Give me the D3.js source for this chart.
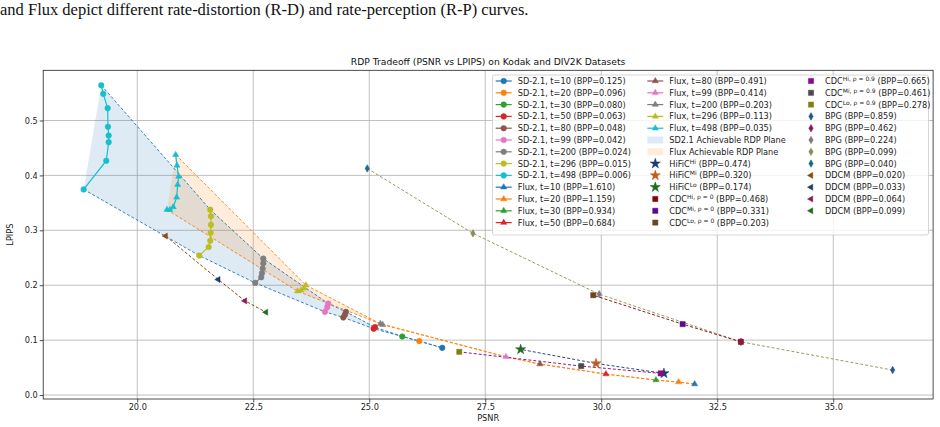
<!DOCTYPE html>
<html><head><meta charset="utf-8">
<script src="https://cdn.jsdelivr.net/npm/d3@7"></script>
<style>
body{margin:0;background:#fff;}
svg{display:block;font-family:"DejaVu Sans",sans-serif;}
</style></head>
<body><svg id="c" width="940" height="427"></svg>
<script>
// ---------- data ----------
const sdT = [10, 20, 30, 50, 80, 99, 200, 296, 498];
const sdBPP = ["0.125","0.096","0.080","0.063","0.048","0.042","0.024","0.015","0.006"];
const sdColors = ["#1f77b4","#ff7f0e","#2ca02c","#d62728","#8c564b","#e377c2","#7f7f7f","#bcbd22","#17becf"];
const sdPSNR = [
  [26.573],
  [26.078],
  [25.711],
  [25.123, 25.095],
  [24.498, 24.476, 24.440],
  [24.116, 24.095, 24.045],
  [22.716, 22.716, 22.703, 22.688, 22.672, 22.543],
  [21.573, 21.588, 21.588, 21.582, 21.573, 21.539, 21.336],
  [19.224, 19.267, 19.362, 19.369, 19.384, 19.384, 19.332, 18.845]
];
const sdLPIPS = [
  [0.0860],
  [0.0982],
  [0.1067],
  [0.1236, 0.1209],
  [0.1515, 0.1464, 0.1413],
  [0.1667, 0.1600, 0.1515],
  [0.2485, 0.2400, 0.2304, 0.2218, 0.2145, 0.2042],
  [0.3376, 0.3255, 0.3100, 0.2955, 0.2809, 0.2696, 0.2540],
  [0.5642, 0.5485, 0.5224, 0.4885, 0.4727, 0.4605, 0.4267, 0.3745]
];

const fluxT = [10, 20, 30, 50, 80, 99, 200, 296, 498];
const fluxBPP = ["1.610","1.159","0.934","0.684","0.491","0.414","0.203","0.113","0.035"];
const fluxPSNR = [
  [32.013],
  [31.668],
  [31.179],
  [30.101],
  [28.679],
  [27.946],
  [25.240, 25.290],
  [23.636, 23.593, 23.528, 23.453],
  [20.828, 20.856, 20.892, 20.871, 20.849, 20.776, 20.705, 20.640]
];
const fluxLPIPS = [
  [0.0200],
  [0.0236],
  [0.0273],
  [0.0382],
  [0.0564],
  [0.0696],
  [0.1300, 0.1280],
  [0.2000, 0.1945, 0.1909, 0.1891],
  [0.4376, 0.4182, 0.3982, 0.3831, 0.3600, 0.3424, 0.3376, 0.3376]
];

const hificLabels = ["Hi", "Mi", "Lo"];
const hificBPP = ["0.474", "0.320", "0.174"];
const hificPSNR = [31.351, 29.886, 28.263];
const hificLPIPS = [0.0395, 0.0576, 0.0831];
const hificColors = ["#1a3d6e", "#c45a1a", "#1e6b1e"];

const cdc0Labels = ["Hi", "Mi", "Lo"];
const cdc0BPP = ["0.468", "0.331", "0.203"];
const cdc0PSNR = [33.009, 31.754, 29.828];
const cdc0LPIPS = [0.0969, 0.1291, 0.1818];
const cdc0Colors = ["#7a0a0a", "#5a0a8a", "#6b4520"];

const cdc9Labels = ["Hi", "Mi", "Lo"];
const cdc9BPP = ["0.665", "0.461", "0.278"];
const cdc9PSNR = [31.280, 29.569, 26.940];
const cdc9LPIPS = [0.0395, 0.0527, 0.0787];
const cdc9Colors = ["#8b0a8b", "#4a4a4a", "#808010"];

const bpgBPP = ["0.859", "0.462", "0.224", "0.099", "0.040"];
const bpgPSNR = [36.280, 33.011, 29.957, 27.235, 24.957];
const bpgLPIPS = [0.0455, 0.0969, 0.1836, 0.2945, 0.4127];
const bpgColors = ["#1f5a8a", "#8a1a5a", "#7a7a7a", "#8a8a5a", "#1f6a8a"];

const ddcmBPP = ["0.020", "0.033", "0.064", "0.099"];
const ddcmPSNR = [20.612, 21.746, 22.321, 22.774];
const ddcmLPIPS = [0.2896, 0.2104, 0.1715, 0.1509];
const ddcmColors = ["#8a4a10", "#1a3d6e", "#8a1a5a", "#1e6b1e"];

const xTicks = [20.0, 22.5, 25.0, 27.5, 30.0, 32.5, 35.0];
const yTicks = [0.0, 0.1, 0.2, 0.3, 0.4, 0.5];

// ---------- drawing ----------
const svg = d3.select("#c");
const L = 43.2, R = 933.1, T = 70.3, B = 399;
const x = d3.scaleLinear().domain([17.973, 37.152]).range([L, R]);
const y = d3.scaleLinear().domain([-0.0072, 0.5914]).range([B, T]);

// caption from paper
svg.append("text").attr("x", 0).attr("y", 15)
  .style("font-family", "'Liberation Serif','Times New Roman',serif").style("font-size", "16.5px").attr("fill", "#111")
  .text("and Flux depict different rate-distortion (R-D) and rate-perception (R-P) curves.");

// title
svg.append("text").attr("x", (L + R) / 2).attr("y", 65).attr("text-anchor", "middle")
  .style("font-size", "9.2px").attr("fill", "#111")
  .text("RDP Tradeoff (PSNR vs LPIPS) on Kodak and DIV2K Datasets");

const clip = svg.append("defs").append("clipPath").attr("id", "clp");
clip.append("rect").attr("x", L).attr("y", T).attr("width", R - L).attr("height", B - T);

// grid
const grid = svg.append("g");
xTicks.forEach(v => grid.append("line").attr("x1", x(v)).attr("x2", x(v)).attr("y1", T).attr("y2", B)
  .attr("stroke", "#b0b0b0").attr("stroke-width", 0.8));
yTicks.forEach(v => grid.append("line").attr("x1", L).attr("x2", R).attr("y1", y(v)).attr("y2", y(v))
  .attr("stroke", "#b0b0b0").attr("stroke-width", 0.8));

// axes
const xAxis = d3.axisBottom(x).tickValues(xTicks).tickFormat(d3.format(".1f")).tickSize(3.5).tickPadding(2);
const yAxis = d3.axisLeft(y).tickValues(yTicks).tickFormat(d3.format(".1f")).tickSize(3.5).tickPadding(2);
const gx = svg.append("g").attr("transform", `translate(0,${B})`).call(xAxis);
const gy = svg.append("g").attr("transform", `translate(${L},0)`).call(yAxis);
[gx, gy].forEach(g => {
  g.select(".domain").remove();
  g.selectAll("text").style("font-size", "8.2px").style("font-family", "'DejaVu Sans',sans-serif").attr("fill", "#222");
  g.selectAll("line").attr("stroke", "#222").attr("stroke-width", 0.8);
});
svg.append("text").attr("x", (L + R) / 2).attr("y", 421).attr("text-anchor", "middle")
  .style("font-size", "8.2px").attr("fill", "#222").text("PSNR");
svg.append("text").attr("transform", `translate(13,${(T + B) / 2}) rotate(-90)`).attr("text-anchor", "middle")
  .style("font-size", "8.2px").attr("fill", "#222").text("LPIPS");

const plot = svg.append("g").attr("clip-path", "url(#clp)");

// marker paths
function markerPath(type) {
  if (type === "circle") return d3.symbol(d3.symbolCircle, 25)();
  if (type === "tri") { const s = 3.5; return `M0,${-s}L${s * 0.87},${s * 0.5}L${-s * 0.87},${s * 0.5}Z`; }
  if (type === "square") return "M-2.6,-2.6H2.6V2.6H-2.6Z";
  if (type === "star") return d3.symbol(d3.symbolStar, 32)();
  if (type === "tdiamond") return "M0,-3.8L2.2,0L0,3.8L-2.2,0Z";
  if (type === "tleft") { const s = 3.5; return `M${-s},0L${s * 0.5},${-s * 0.87}L${s * 0.5},${s * 0.87}Z`; }
}
function drawMarker(g, type, px, py, color) {
  g.append("path").attr("d", markerPath(type)).attr("transform", `translate(${px},${py})`).attr("fill", color).attr("stroke", color).attr("stroke-width", 0.5);
}
const line = d3.line().x(d => x(d[0])).y(d => y(d[1]));

// boundaries and fills (ordered t=498 -> t=10)
function bounds(P, Q) {
  const idx = d3.range(P.length).reverse();
  const upper = idx.map(i => [P[i][0], Q[i][0]]);
  const lower = idx.map(i => [P[i][P[i].length - 1], Q[i][Q[i].length - 1]]);
  return { upper, lower };
}
const sdB = bounds(sdPSNR, sdLPIPS), fxB = bounds(fluxPSNR, fluxLPIPS);
plot.append("path").attr("d", line(sdB.upper.concat(sdB.lower.slice().reverse())) + "Z").attr("fill", "#1f77b4").attr("fill-opacity", 0.15);
plot.append("path").attr("d", line(fxB.upper.concat(fxB.lower.slice().reverse())) + "Z").attr("fill", "#ff7f0e").attr("fill-opacity", 0.15);
[[sdB, "#1f77b4"], [fxB, "#ff7f0e"]].forEach(([b, c]) => {
  [b.upper, b.lower].forEach(pts => plot.append("path").attr("d", line(pts)).attr("fill", "none")
    .attr("stroke", c).attr("stroke-width", 0.9).attr("stroke-dasharray", "3,2"));
});

// comparison dashed lines
function dashLine(P, Q, c) {
  plot.append("path").attr("d", line(P.map((v, i) => [v, Q[i]]))).attr("fill", "none")
    .attr("stroke", c).attr("stroke-width", 1).attr("stroke-dasharray", "3,2");
}
dashLine(bpgPSNR, bpgLPIPS, "#9a9a60");
dashLine(cdc0PSNR, cdc0LPIPS, "#8b1a1a");
dashLine(cdc9PSNR, cdc9LPIPS, "#8b1a8b");
dashLine(hificPSNR, hificLPIPS, "#2a4a7a");
dashLine(ddcmPSNR, ddcmLPIPS, "#8a4a10");

// series
function drawSeries(P, Q, colors, type) {
  P.forEach((arr, i) => {
    const pts = arr.map((v, j) => [v, Q[i][j]]);
    plot.append("path").attr("d", line(pts)).attr("fill", "none").attr("stroke", colors[i]).attr("stroke-width", 1.2);
    pts.forEach(p => drawMarker(plot, type, x(p[0]), y(p[1]), colors[i]));
  });
}
drawSeries(sdPSNR, sdLPIPS, sdColors, "circle");
drawSeries(fluxPSNR, fluxLPIPS, sdColors, "tri");

hificPSNR.forEach((v, i) => drawMarker(plot, "star", x(v), y(hificLPIPS[i]), hificColors[i]));
cdc0PSNR.forEach((v, i) => drawMarker(plot, "square", x(v), y(cdc0LPIPS[i]), cdc0Colors[i]));
cdc9PSNR.forEach((v, i) => drawMarker(plot, "square", x(v), y(cdc9LPIPS[i]), cdc9Colors[i]));
bpgPSNR.forEach((v, i) => drawMarker(plot, "tdiamond", x(v), y(bpgLPIPS[i]), bpgColors[i]));
ddcmPSNR.forEach((v, i) => drawMarker(plot, "tleft", x(v), y(ddcmLPIPS[i]), ddcmColors[i]));

// frame
svg.append("rect").attr("x", L).attr("y", T).attr("width", R - L).attr("height", B - T)
  .attr("fill", "none").attr("stroke", "#222").attr("stroke-width", 0.8);

// ---------- legend ----------
const lg = svg.append("g");
lg.append("rect").attr("x", 492.5).attr("y", 75).attr("width", 436).attr("height", 160).attr("rx", 2)
  .attr("fill", "#fff").attr("fill-opacity", 0.8).attr("stroke", "#cccccc").attr("stroke-width", 0.8);
const rowH = 11.8, row0 = 81;
const entries = [];
sdT.forEach((t, i) => entries.push({ kind: "line", type: "circle", color: sdColors[i], label: [[`SD-2.1, t=${t} (BPP=${sdBPP[i]})`]] }));
fluxT.forEach((t, i) => entries.push({ kind: "line", type: "tri", color: sdColors[i], label: [[`Flux, t=${t} (BPP=${fluxBPP[i]})`]] }));
entries.push({ kind: "patch", color: "#1f77b4", label: [["SD2.1 Achievable RDP Plane"]] });
entries.push({ kind: "patch", color: "#ff7f0e", label: [["Flux Achievable RDP Plane"]] });
hificLabels.forEach((l, i) => entries.push({ kind: "mark", type: "star", color: hificColors[i], label: [["HiFiC"], [l, "sup"], [` (BPP=${hificBPP[i]})`]] }));
cdc0Labels.forEach((l, i) => entries.push({ kind: "mark", type: "square", color: cdc0Colors[i], label: [["CDC"], [`${l}, ρ = 0`, "sup"], [` (BPP=${cdc0BPP[i]})`]] }));
cdc9Labels.forEach((l, i) => entries.push({ kind: "mark", type: "square", color: cdc9Colors[i], label: [["CDC"], [`${l}, ρ = 0.9`, "sup"], [` (BPP=${cdc9BPP[i]})`]] }));
bpgBPP.forEach((b, i) => entries.push({ kind: "mark", type: "tdiamond", color: bpgColors[i], label: [[`BPG (BPP=${b})`]] }));
ddcmBPP.forEach((b, i) => entries.push({ kind: "mark", type: "tleft", color: ddcmColors[i], label: [[`DDCM (BPP=${b})`]] }));

const colX = [517.7, 669.3, 825];
const colStart = [0, 13, 26];
entries.forEach((e, k) => {
  const c = k < 13 ? 0 : (k < 26 ? 1 : 2);
  const r = k - colStart[c];
  const tx = colX[c], cy = row0 + r * rowH;
  if (e.kind === "line") {
    lg.append("line").attr("x1", tx - 22).attr("x2", tx - 6).attr("y1", cy).attr("y2", cy).attr("stroke", e.color).attr("stroke-width", 1.2);
    drawMarker(lg, e.type, tx - 14, cy, e.color);
  } else if (e.kind === "patch") {
    lg.append("rect").attr("x", tx - 22).attr("y", cy - 3.5).attr("width", 16).attr("height", 7).attr("fill", e.color).attr("fill-opacity", 0.15);
  } else {
    drawMarker(lg, e.type, tx - 14, cy, e.color);
  }
  const t = lg.append("text").attr("x", tx).attr("y", cy + 3).style("font-size", "8.2px").attr("fill", "#222");
  e.label.forEach(part => {
    if (part[1] === "sup") t.append("tspan").attr("dy", -3).style("font-size", "6px").text(part[0]);
    else if (t.selectAll("tspan").size() > 0) t.append("tspan").attr("dy", 3).text(part[0]);
    else t.append("tspan").text(part[0]);
  });
});
</script></body></html>
